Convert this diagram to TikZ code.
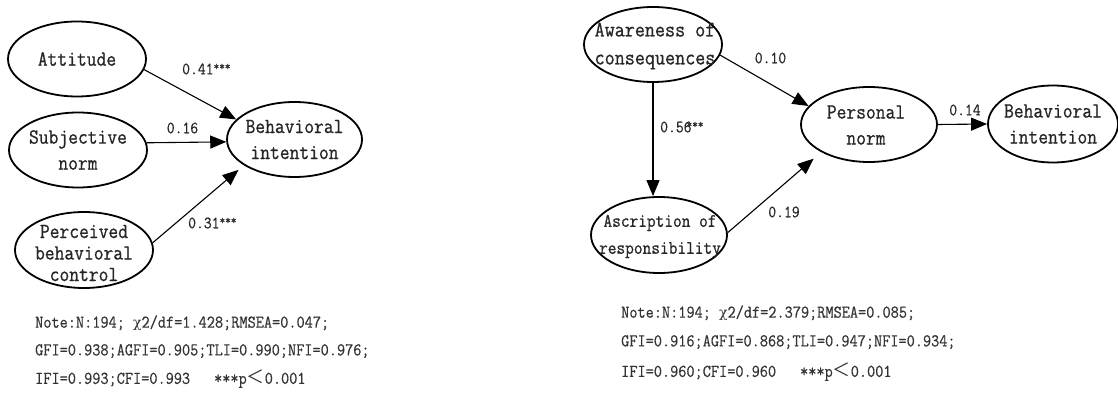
\documentclass[tikz,border=0pt]{standalone}
\usepackage{fontspec}
\setmainfont[FakeStretch=0.88,FakeBold=0.8]{Latin Modern Mono}
\newfontfamily\notefont[FakeStretch=0.88,FakeBold=0.5]{Latin Modern Mono}
\newfontfamily\grk{DejaVu Serif}
\newfontfamily\cjk{Noto Sans CJK SC}
\usetikzlibrary{shapes.geometric,arrows.meta}
\tikzset{
  ell/.style 2 args={draw, ellipse, line width=1.8pt, inner sep=0pt, minimum width=#1pt, minimum height=#2pt},
  ntext/.style={align=center, inner sep=0pt, font=\fontsize{21.6}{26}\selectfont, text=black!85},
  lbl/.style={inner sep=0pt, font=\notefont\fontsize{17.3}{18}\selectfont, text=black!85},
  note/.style={anchor=west, inner sep=0pt, font=\notefont\fontsize{18}{20}\selectfont, text=black!80},
  arr/.style={line width=1.1pt, -{Triangle[length=16pt,width=13pt]}},
}
\newcommand{\stars}{\raisebox{4pt}{\fontsize{12.5}{12}\selectfont ***}}
\newcommand{\chisq}{{\grk\fontsize{14}{16}\selectfont χ}2}
\begin{document}
\begin{tikzpicture}[x=1pt,y=-1pt]
\useasboundingbox (0,0) rectangle (1118,398);
% left model
\node[ell={138}{75}] (att) at (77,59) {};
\node[ntext] (att-t) at (att) {Attitude};
\node[ell={138}{75}] (sub) at (78,150) {};
\node[ntext] (sub-t) at (sub) {Subjective\\norm};
\node[ell={138}{76}] (pbc) at (84,250) {};
\node[ntext, font=\fontsize{21.6}{21.5}\selectfont] (pbc-t) at (84,253) {Perceived\\behavioral\\control};
\node[ell={135}{75}] (bil) at (294.5,139.5) {};
\node[ntext] (bil-t) at (bil) {Behavioral\\intention};
\draw[arr] (att.-9) -- (bil.161);
\draw[arr] (sub.6) -- (bil.182);
\draw[arr, shorten >=7pt] (pbc.6) -- (bil.207);
\node[lbl, anchor=west] (l1) at (182,69) {0.41\stars};
\node[lbl] (l2) at (182.5,128) {0.16};
\node[lbl, anchor=west] (l3) at (188,223) {0.31\stars};
\node[note] (n1) at (35,323) {Note:N:194; \chisq/df=1.428;RMSEA=0.047;};
\node[note] (n2) at (35,351) {GFI=0.938;AGFI=0.905;TLI=0.990;NFI=0.976;};
\node[note] (n3) at (35,379) {IFI=0.993;CFI=0.993\hspace{24pt}***p{\cjk ＜}0.001};
% right model
\node[ell={138}{75}] (aw) at (653,44.5) {};
\node[ntext, font=\fontsize{22.2}{28}\selectfont] (aw-t) at (655,46) {Awareness of\\consequences};
\node[ell={136}{76}] (asc) at (659,235) {};
\node[ntext, font=\fontsize{19.2}{27}\selectfont] (asc-t) at (660,236.5) {Ascription of\\responsibility};
\node[ell={136}{75}] (pn) at (869,124.5) {};
\node[ntext] (pn-t) at (866,125) {Personal\\norm};
\node[ell={130}{77}] (bir) at (1053,124) {};
\node[ntext] (bir-t) at (1053,124) {Behavioral\\intention};
\draw[arr] (aw.-9) -- (pn.163.5);
\draw[arr] (aw.south) -- (aw.south |- asc.north);
\draw[arr, shorten >=10pt] (asc.2.5) -- (pn.210);
\draw[arr] (pn.east) -- (bir.west);
\node[lbl] (r1) at (770.5,58) {0.10};
\node[lbl, anchor=west] (r2) at (660,127) {0.56\hspace{-5pt}\stars};
\node[lbl] (r3) at (965,110) {0.14};
\node[lbl] (r4) at (784,212) {0.19};
\node[note] (m1) at (621,313) {Note:N:194; \chisq/df=2.379;RMSEA=0.085;};
\node[note] (m2) at (621,342) {GFI=0.916;AGFI=0.868;TLI=0.947;NFI=0.934;};
\node[note] (m3) at (621,372) {IFI=0.960;CFI=0.960\hspace{24pt}***p{\cjk ＜}0.001};
\end{tikzpicture}
\end{document}
